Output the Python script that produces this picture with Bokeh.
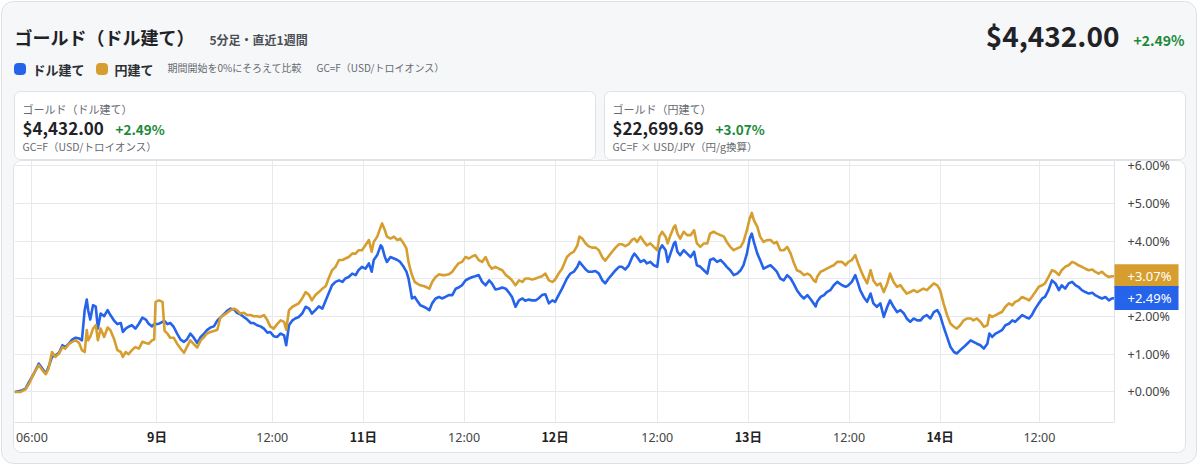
from bokeh.plotting import figure
from bokeh.models import Range1d, FixedTicker, Label, BoxAnnotation, ColumnDataSource, LinearAxis
from bokeh.embed import file_html
from bokeh.resources import INLINE

# ---- data: 5-minute bar index (gaps removed) and % change from period start ----
bar_index = [
    0, 9, 16, 21, 28, 35, 40, 45, 49, 54, 59, 64, 69, 73, 78, 83, 88, 93, 97,
    101, 104, 106, 109, 113, 117, 120, 124, 129, 134, 138,
    143, 148, 153, 156, 160, 164, 169, 174, 179, 184, 189, 193, 198,
    201, 203, 208, 213, 216,
    220, 224, 229, 234, 239, 244, 248, 253, 258, 263, 268, 272, 277, 282, 287, 292, 296, 301,
    306, 311, 316, 320, 325, 330, 335, 340, 344, 349, 354, 359, 364, 368, 373, 378, 383, 388, 391,
    395, 400, 404, 409, 414, 419, 424, 428, 433, 438, 443, 448, 452, 457, 462, 467, 472, 476,
    481, 486, 491, 495, 500, 505, 510,
    514, 517, 522, 527, 529, 533, 536, 541, 546, 551, 555, 560, 564, 567, 570, 572, 576, 579,
    584, 589, 594, 597,
    601, 606, 611, 615, 620, 625, 630, 635, 639, 644, 649, 654, 659, 663, 668, 673, 678, 683,
    687, 692, 697, 702, 707, 711, 716, 721, 726, 731, 735, 740, 745, 750, 754, 759, 764, 769,
    774, 778, 783, 788,
    795, 800, 805, 810, 813, 817, 822, 826, 831, 836, 841, 846, 850, 855, 860, 865, 870, 874,
    879, 884, 889, 892, 896, 901, 906, 910, 915, 920, 925, 928, 932, 937, 940, 944, 949, 951,
    954, 958, 963, 968, 973, 978, 982, 987, 992, 997, 1001, 1006, 1011, 1016, 1021, 1025, 1030,
    1035, 1040, 1045, 1049, 1054, 1058, 1061, 1064, 1069, 1073, 1078, 1083, 1088, 1093, 1097,
    1102, 1107, 1112, 1117, 1121, 1126, 1131, 1136, 1141, 1145, 1150, 1153, 1155, 1160, 1165,
    1169, 1174, 1179, 1184,
    1191, 1196, 1200, 1205, 1210, 1214, 1217, 1222, 1227, 1232, 1236, 1241, 1246, 1251, 1256,
    1260, 1265, 1270, 1275, 1280, 1284, 1289, 1294, 1299, 1304, 1308, 1313, 1318, 1323, 1328,
    1332, 1337, 1342, 1347, 1352, 1356, 1361, 1366, 1371, 1376, 1380, 1385, 1390, 1395, 1400,
    1403, 1407, 1412, 1416, 1421, 1426, 1431, 1436, 1440, 1445, 1450, 1455, 1460, 1464, 1469,
    1474, 1479, 1483, 1488, 1493, 1498, 1503, 1507, 1512, 1517, 1522, 1527, 1531, 1536, 1541,
    1546, 1551, 1555, 1560, 1565, 1570, 1575, 1579, 1583,
]

usd_pct = [
    0.00, 0.03, 0.09, 0.27, 0.49, 0.75, 0.62, 0.49, 0.66, 0.93, 0.97, 1.04, 1.24, 1.19, 1.28, 1.39, 1.44, 1.42, 1.37,
    2.17, 2.45, 2.17, 1.92, 2.30, 2.26, 1.68, 2.08, 2.01, 2.17, 2.04,
    1.90, 1.80, 1.83, 1.59, 1.68, 1.73, 1.77, 1.68, 1.81, 1.97, 1.92, 1.81, 1.74,
    1.80, 1.80, 1.81, 1.86, 1.88,
    1.80, 1.83, 1.73, 1.55, 1.39, 1.33, 1.39, 1.55, 1.44, 1.30, 1.46, 1.53, 1.64, 1.71, 1.74, 1.90, 1.97, 2.06,
    2.15, 2.21, 2.19, 2.10, 2.06, 1.99, 1.92, 1.83, 1.83, 1.77, 1.74, 1.68, 1.57, 1.59, 1.48, 1.46, 1.55, 1.50, 1.24,
    1.77, 1.90, 1.95, 1.99, 2.08, 2.26, 2.21, 2.08, 2.17, 2.27, 2.21, 2.43, 2.61, 2.83, 2.92, 2.96, 2.92, 3.01,
    3.05, 3.14, 3.10, 3.23, 3.32, 3.27, 3.41,
    3.19, 3.50, 3.63, 3.89, 3.85, 3.58, 3.45, 3.58, 3.54, 3.50, 3.45, 3.32, 3.19, 3.01, 2.70, 2.48, 2.52, 2.43,
    2.30, 2.26, 2.21, 2.17,
    2.35, 2.48, 2.52, 2.48, 2.52, 2.57, 2.57, 2.74, 2.77, 2.83, 2.96, 3.01, 3.05, 3.07, 3.10, 2.92, 2.83, 2.96,
    2.88, 2.72, 2.74, 2.77, 2.74, 2.65, 2.52, 2.26, 2.43, 2.48, 2.42, 2.45, 2.43, 2.43, 2.48, 2.57, 2.59, 2.35,
    2.43, 2.39, 2.57, 2.74,
    3.01, 3.14, 3.19, 3.32, 3.45, 3.36, 3.25, 3.19, 3.19, 3.21, 3.14, 2.96, 2.88, 3.01, 3.12, 3.23, 3.32, 3.32,
    3.25, 3.36, 3.58, 3.67, 3.58, 3.45, 3.50, 3.41, 3.45, 3.36, 3.32, 3.76, 3.89, 3.76, 3.45, 3.67, 3.94, 3.98,
    3.72, 3.63, 3.76, 3.67, 3.58, 3.72, 3.36, 3.32, 3.23, 3.14, 3.50, 3.54, 3.45, 3.50, 3.41, 3.32, 3.23,
    3.10, 3.14, 3.23, 3.36, 3.67, 4.07, 4.20, 3.98, 3.67, 3.50, 3.27, 3.32, 3.36, 3.27, 3.19,
    3.01, 2.96, 3.10, 3.01, 2.88, 2.70, 2.57, 2.48, 2.57, 2.48, 2.35, 2.27, 2.39, 2.52, 2.57,
    2.65, 2.70, 2.83, 2.92,
    2.83, 2.79, 2.83, 2.92, 3.10, 2.88, 2.70, 2.52, 2.39, 2.61, 2.35, 2.26, 2.35, 1.99, 2.26,
    2.43, 2.26, 2.12, 2.17, 2.08, 1.95, 1.86, 1.95, 1.90, 1.90, 1.99, 2.04, 1.95, 2.12, 2.17,
    2.04, 1.73, 1.46, 1.19, 1.06, 1.02, 1.11, 1.19, 1.28, 1.37, 1.33, 1.28, 1.24, 1.15, 1.28,
    1.55, 1.46, 1.55, 1.59, 1.64, 1.77, 1.81, 1.90, 1.86, 1.95, 2.04, 1.99, 1.95, 2.04, 2.21,
    2.35, 2.48, 2.52, 2.70, 2.96, 2.88, 2.70, 2.83, 2.74, 2.88, 2.92, 2.83, 2.79, 2.70, 2.65,
    2.61, 2.63, 2.57, 2.52, 2.48, 2.52, 2.43, 2.48, 2.49,
]

jpy_pct = [
    0.00, 0.00, 0.07, 0.22, 0.50, 0.71, 0.58, 0.47, 0.62, 1.06, 0.93, 1.02, 1.19, 1.15, 1.27, 1.33, 1.37, 1.30, 1.11,
    1.06, 1.64, 1.37, 1.46, 1.68, 1.77, 1.37, 1.68, 1.46, 1.71, 1.64,
    1.42, 1.11, 1.06, 0.93, 1.06, 1.00, 1.11, 1.19, 1.15, 1.33, 1.30, 1.28, 1.37,
    1.39, 2.39, 2.43, 2.39, 1.62,
    1.55, 1.44, 1.44, 1.28, 1.15, 1.04, 1.19, 1.37, 1.27, 1.18, 1.37, 1.44, 1.55, 1.59, 1.62, 1.65, 1.97, 2.04,
    2.10, 2.17, 2.21, 2.17, 2.08, 2.10, 2.04, 2.04, 2.01, 2.01, 1.99, 2.04, 1.90, 1.74, 1.68, 1.80, 1.90, 1.86, 1.65,
    2.17, 2.26, 2.30, 2.35, 2.48, 2.65, 2.57, 2.43, 2.57, 2.65, 2.74, 2.81, 3.01, 3.23, 3.32, 3.50, 3.50, 3.54,
    3.58, 3.67, 3.67, 3.76, 3.76, 3.89, 4.03,
    3.72, 3.98, 4.12, 4.38, 4.47, 4.29, 4.12, 4.07, 4.12, 4.03, 4.07, 3.94, 3.81, 3.45, 3.23, 3.10, 2.92, 2.88,
    2.83, 2.81, 2.77, 2.74,
    2.92, 3.05, 3.12, 3.10, 3.10, 3.12, 3.19, 3.32, 3.41, 3.45, 3.58, 3.54, 3.60, 3.63, 3.50, 3.45, 3.58, 3.36,
    3.27, 3.32, 3.27, 3.23, 3.10, 3.05, 2.96, 2.83, 2.96, 2.92, 3.01, 3.01, 2.98, 3.01, 3.04, 3.07, 3.14, 2.96,
    2.92, 2.98, 3.14, 3.27,
    3.58, 3.67, 3.72, 3.89, 4.12, 4.07, 3.94, 3.87, 3.83, 3.83, 3.76, 3.57, 3.48, 3.60, 3.72, 3.83, 3.92, 3.92,
    3.87, 3.92, 4.04, 4.07, 3.98, 4.12, 3.98, 3.89, 3.94, 3.85, 3.76, 4.12, 4.25, 4.12, 3.94, 4.16, 4.38, 4.42,
    4.20, 4.07, 4.25, 4.16, 4.16, 4.29, 3.94, 3.85, 3.94, 3.94, 4.20, 4.25, 4.20, 4.16, 4.12, 3.98, 3.85,
    3.76, 3.81, 3.85, 3.98, 4.29, 4.60, 4.75, 4.56, 4.38, 4.12, 3.98, 4.03, 4.03, 3.94, 3.98,
    3.76, 3.76, 3.85, 3.67, 3.45, 3.23, 3.19, 3.10, 3.14, 3.10, 2.96, 2.92, 3.05, 3.19, 3.23,
    3.27, 3.32, 3.36, 3.45,
    3.45, 3.36, 3.45, 3.50, 3.63, 3.41, 3.27, 3.05, 2.88, 3.23, 2.96, 2.83, 2.88, 2.65, 2.88,
    3.14, 2.92, 2.79, 2.83, 2.70, 2.61, 2.65, 2.70, 2.65, 2.70, 2.74, 2.70, 2.79, 2.88, 2.83,
    2.70, 2.35, 2.04, 1.81, 1.73, 1.68, 1.77, 1.90, 1.95, 1.95, 1.90, 1.95, 1.86, 1.73, 1.77,
    2.04, 1.99, 2.04, 2.08, 2.12, 2.26, 2.35, 2.30, 2.39, 2.43, 2.52, 2.48, 2.43, 2.52, 2.65,
    2.79, 2.83, 2.88, 3.05, 3.23, 3.19, 3.10, 3.23, 3.32, 3.36, 3.45, 3.41, 3.36, 3.32, 3.27,
    3.23, 3.25, 3.19, 3.14, 3.19, 3.10, 3.05, 3.07, 3.07,
]

usd_price = 4432.00
jpy_price = 22699.69

hour_ticks = [25, 371, 647, 925, 1201, 1475]
hour_labels = ["06:00", "12:00", "12:00", "12:00", "12:00", "12:00"]
day_ticks = [205, 502, 778, 1056, 1332]
day_labels = ["9日", "11日", "12日", "13日", "14日"]
pct_ticks = [0, 1, 2, 3, 4, 5, 6]
pct_labels = ["+0.00%", "+1.00%", "+2.00%", "+3.00%", "+4.00%", "+5.00%", "+6.00%"]

# ---- styling / geometry ----
W, H = 1200, 466
FRAME_L, FRAME_R, FRAME_T, FRAME_B = 14, 1114, 160, 422
Y0, Y1 = -0.81, 6.14
BLUE = "#2563eb"
GOLD = "#d69e2e"
GREEN = "#1a8a3a"
INK = "#1f2328"
MUTED = "#666a70"
GRID = "#e7e9ec"
EDGE = "#dfe3e8"
JP = "Noto Sans CJK JP"


def layer(z, **kw):
    return dict(width=W, height=H, output_backend="svg", toolbar_location=None,
                outline_line_color=None,
                styles={"position": "absolute", "left": "0px", "top": "0px", "z-index": str(z)}, **kw)


# ---------- layer 0: page panel, header, cards ----------
bg = figure(x_range=Range1d(0, W), y_range=Range1d(H, 0), x_axis_location=None, y_axis_location=None,
            min_border=0, background_fill_color="white", border_fill_color="white", **layer(0))
bg.grid.visible = False


def box(fig, l, t, r, b, fill, line, radius):
    fig.add_layout(BoxAnnotation(left=l, right=r, top=t, bottom=b,
                                 fill_color=fill, fill_alpha=1.0, line_color=line, line_alpha=1.0,
                                 line_width=1, border_radius=radius, level="underlay", editable=False))


def label(fig, x, y, text, size, color=INK, bold=False, align="left", font=JP):
    fig.add_layout(Label(x=x, y=y, text=text, text_font=font, text_font_size=size, text_color=color,
                         text_font_style="bold" if bold else "normal",
                         text_align=align, text_baseline="middle"))


box(bg, 1, 1, 1196, 463, "#f6f7f9", "#dde1e6", 12)
box(bg, 14, 91, 595, 159, "white", EDGE, 6)
box(bg, 604, 91, 1185, 159, "white", EDGE, 6)
box(bg, 13, 160, 1185, 452, "white", EDGE, 8)
box(bg, 14, 63, 25, 74, BLUE, BLUE, 3)
box(bg, 96, 63, 107, 74, GOLD, GOLD, 3)

usd_chg = f"+{usd_pct[-1]:.2f}%"
jpy_chg = f"+{jpy_pct[-1]:.2f}%"

label(bg, 14, 36, "ゴールド（ドル建て）", "18px", bold=True)
label(bg, 209, 39, "5分足・直近1週間", "12px", color="#4a4f55", bold=True)
label(bg, 1119, 34, f"${usd_price:,.2f}", "28px", bold=True, align="right")
label(bg, 1133, 39, usd_chg, "14px", color=GREEN, bold=True)
label(bg, 32, 69, "ドル建て", "13px", color="#2b2f33", bold=True)
label(bg, 114, 69, "円建て", "13px", color="#2b2f33", bold=True)
label(bg, 167, 67, "期間開始を0%にそろえて比較", "10px", color=MUTED)
label(bg, 316, 67, "GC=F（USD/トロイオンス）", "10px", color=MUTED)

label(bg, 22, 108, "ゴールド（ドル建て）", "11px", color=MUTED)
label(bg, 22, 127, f"${usd_price:,.2f}", "17px", bold=True)
label(bg, 115, 128, usd_chg, "13.5px", color=GREEN, bold=True)
label(bg, 22, 146, "GC=F（USD/トロイオンス）", "10.5px", color=MUTED)

label(bg, 612, 108, "ゴールド（円建て）", "11px", color=MUTED)
label(bg, 612, 127, f"${jpy_price:,.2f}", "17px", bold=True)
label(bg, 715, 128, jpy_chg, "13.5px", color=GREEN, bold=True)
label(bg, 612, 146, "GC=F × USD/JPY（円/g換算）", "10.5px", color=MUTED)

# ---------- layer 1: the chart ----------
p = figure(x_range=Range1d(0, bar_index[-1]), y_range=Range1d(Y0, Y1),
           x_axis_location=None, y_axis_location="right",
           min_border_left=FRAME_L, min_border_right=W - FRAME_R,
           min_border_top=FRAME_T, min_border_bottom=H - FRAME_B,
           background_fill_alpha=0, border_fill_alpha=0, **layer(1))

hour_axis = LinearAxis(ticker=FixedTicker(ticks=hour_ticks),
                       major_label_overrides=dict(zip(hour_ticks, hour_labels)))
day_axis = LinearAxis(ticker=FixedTicker(ticks=day_ticks),
                      major_label_overrides=dict(zip(day_ticks, day_labels)))
p.add_layout(hour_axis, "below")
p.add_layout(day_axis, "below")
p.yaxis.ticker = FixedTicker(ticks=pct_ticks)
p.yaxis.major_label_overrides = dict(zip(pct_ticks, pct_labels))

for ax, standoff in ((hour_axis, 6), (day_axis, -22), (p.yaxis[0], 13)):
    ax.axis_line_color = EDGE
    ax.major_tick_line_color = None
    ax.minor_tick_line_color = None
    ax.major_tick_out = 0
    ax.major_tick_in = 0
    ax.minor_tick_out = 0
    ax.major_label_text_font = "Noto Sans"
    ax.major_label_text_font_size = "12.5px"
    ax.major_label_text_color = "#444"
    ax.major_label_standoff = standoff
day_axis.axis_line_color = None
day_axis.major_label_text_font = JP
day_axis.major_label_text_font_style = "bold"
day_axis.major_label_text_color = "#222"

p.xgrid.ticker = FixedTicker(ticks=sorted(hour_ticks + day_ticks))
p.xgrid.grid_line_color = GRID
p.ygrid.grid_line_color = GRID

src = ColumnDataSource(dict(x=bar_index, usd=usd_pct, jpy=jpy_pct))
p.line("x", "usd", source=src, line_color=BLUE, line_width=2.6, line_join="round")
p.line("x", "jpy", source=src, line_color=GOLD, line_width=2.6, line_join="round")

# ---------- layer 2: last-value tags (same % scale as the chart) ----------
px_per_pct = (FRAME_B - FRAME_T) / (Y1 - Y0)
ov = figure(x_range=Range1d(0, W),
            y_range=Range1d(Y0 - (H - FRAME_B) / px_per_pct, Y1 + FRAME_T / px_per_pct),
            x_axis_location=None, y_axis_location=None, min_border=0,
            background_fill_alpha=0, border_fill_alpha=0, **layer(2))
ov.grid.visible = False
for series, color in ((jpy_pct, GOLD), (usd_pct, BLUE)):
    ov.add_layout(Label(x=FRAME_R, y=series[-1], text=f"+{series[-1]:.2f}%", text_color="white",
                        text_font="Noto Sans", text_font_size="13px", text_align="left",
                        text_baseline="middle", background_fill_color=color, background_fill_alpha=1.0,
                        padding=(13, 7, 3, 3)))

open("out.html", "w").write(file_html([bg, p, ov], INLINE))
